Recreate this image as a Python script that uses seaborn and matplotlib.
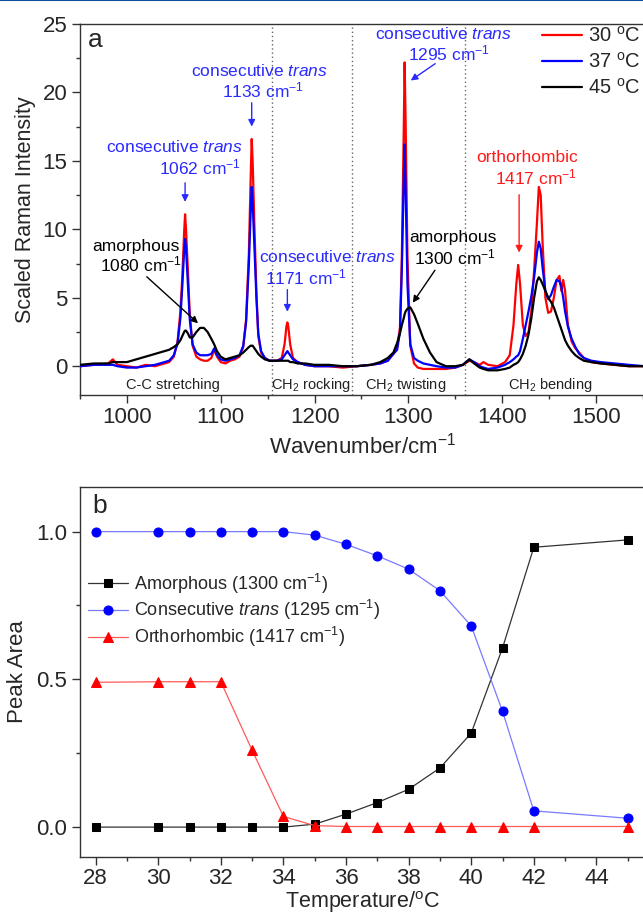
import numpy as np
import pandas as pd
import matplotlib
matplotlib.use("Agg")
import matplotlib.pyplot as plt
from matplotlib.ticker import MultipleLocator, FormatStrFormatter
from matplotlib.lines import Line2D
import seaborn as sns

# ---- panel a: Raman spectra ----
wavenumber = [950, 965, 980, 985, 990, 1000, 1010, 1020, 1030, 1040, 1045, 1050, 1054, 1057, 1059,
              1061, 1062, 1063, 1065, 1067, 1070, 1074, 1078, 1082, 1086, 1090, 1093, 1096, 1100,
              1105, 1110, 1115, 1120, 1124, 1127, 1130, 1132, 1133, 1134, 1136, 1138, 1140, 1143,
              1147, 1152, 1160, 1165, 1168, 1170, 1171, 1172, 1174, 1177, 1182, 1190, 1200, 1215,
              1230, 1245, 1260, 1270, 1278, 1284, 1288, 1291, 1293, 1295, 1296, 1297, 1299, 1302,
              1306, 1310, 1316, 1323, 1330, 1340, 1350, 1358, 1365, 1370, 1376, 1380, 1385, 1395,
              1403, 1408, 1412, 1415, 1417, 1419, 1422, 1425, 1428, 1431, 1434, 1437, 1439, 1441,
              1443, 1446, 1449, 1452, 1455, 1458, 1461, 1463, 1465, 1467, 1470, 1474, 1478, 1482,
              1487, 1495, 1505, 1520, 1535, 1552]

int_30 = [0.0, 0.1, 0.2, 0.5, 0.1, 0.0, -0.1, 0.1, 0.0, 0.2, 0.3, 0.7, 1.8, 4.0, 6.5,
          9.8, 11.1, 10.0, 7.0, 3.8, 1.5, 0.7, 0.5, 0.4, 0.4, 0.6, 1.2, 0.7, 0.3,
          0.2, 0.4, 0.5, 0.7, 1.4, 3.4, 8.3, 14.0, 16.6, 15.0, 10.0, 5.5, 2.2, 1.0,
          0.6, 0.4, 0.4, 0.6, 1.6, 2.9, 3.2, 2.9, 1.6, 0.6, 0.3, 0.1, 0.0, 0.0,
          -0.1, 0.0, 0.1, 0.2, 0.4, 0.9, 1.4, 2.8, 8.0, 17.0, 22.2, 18.0, 8.0, 1.5,
          0.2, -0.1, -0.2, -0.2, -0.2, -0.2, -0.1, 0.1, 0.4, 0.3, 0.1, 0.3, 0.1, 0.0,
          0.3, 0.8, 3.0, 6.0, 7.4, 6.0, 3.0, 2.2, 2.5, 4.0, 7.0, 10.5, 13.1, 12.5,
          9.0, 5.0, 3.9, 4.0, 5.0, 6.3, 6.6, 5.5, 6.3, 5.5, 3.0, 1.8, 1.3, 1.0,
          0.6, 0.3, 0.2, 0.1, 0.0, 0.0]

int_37 = [0.0, 0.1, 0.1, 0.1, 0.0, -0.1, -0.1, 0.0, 0.1, 0.3, 0.4, 0.8, 1.7, 3.5, 5.8,
          8.4, 9.3, 8.6, 6.0, 3.4, 1.6, 1.0, 0.8, 0.8, 0.8, 0.9, 1.3, 0.8, 0.5,
          0.4, 0.5, 0.6, 0.8, 1.5, 3.2, 7.5, 11.5, 13.1, 12.0, 8.5, 5.0, 2.4, 1.1,
          0.6, 0.4, 0.4, 0.5, 0.8, 1.0, 1.1, 1.0, 0.8, 0.5, 0.3, 0.1, 0.0, 0.0,
          0.0, 0.0, 0.1, 0.2, 0.4, 0.9, 1.2, 2.5, 7.0, 13.5, 16.2, 13.0, 6.0, 1.6,
          0.6, 0.4, 0.2, 0.1, 0.0, -0.1, -0.1, 0.1, 0.5, 0.3, 0.0, -0.1, -0.2, -0.1,
          0.1, 0.3, 0.5, 0.7, 0.8, 1.1, 2.0, 3.0, 4.0, 5.1, 6.5, 8.3, 9.1, 8.6,
          7.2, 5.5, 4.9, 5.2, 5.8, 6.3, 6.2, 5.8, 5.0, 4.0, 2.9, 2.0, 1.4, 0.9,
          0.6, 0.4, 0.3, 0.2, 0.1, 0.0]

int_45 = [0.1, 0.2, 0.2, 0.3, 0.3, 0.3, 0.5, 0.7, 0.9, 1.1, 1.2, 1.4, 1.6, 1.9, 2.2,
          2.5, 2.6, 2.6, 2.4, 2.1, 2.1, 2.5, 2.8, 2.8, 2.5, 2.0, 1.6, 1.1, 0.7,
          0.5, 0.6, 0.7, 0.8, 1.0, 1.2, 1.4, 1.5, 1.5, 1.5, 1.3, 1.1, 0.9, 0.7,
          0.5, 0.4, 0.4, 0.4, 0.4, 0.4, 0.4, 0.4, 0.3, 0.3, 0.2, 0.2, 0.1, 0.1,
          0.0, 0.0, 0.1, 0.3, 0.6, 1.0, 1.7, 2.4, 3.0, 3.5, 3.8, 4.0, 4.2, 4.3,
          3.8, 3.1, 2.0, 1.0, 0.3, 0.0, 0.0, 0.1, 0.5, 0.2, -0.1, -0.2, -0.3, -0.3,
          -0.2, -0.1, 0.1, 0.2, 0.3, 0.5, 0.9, 1.5, 2.3, 3.5, 5.0, 6.2, 6.5, 6.3,
          6.0, 5.5, 5.0, 4.7, 4.3, 3.7, 3.1, 2.7, 2.3, 1.9, 1.5, 1.1, 0.8, 0.6,
          0.4, 0.3, 0.2, 0.1, 0.0, 0.0]

spectra_labels = ["30 $^{\\mathrm{o}}$C", "37 $^{\\mathrm{o}}$C", "45 $^{\\mathrm{o}}$C"]
spectra_colors = ["#ff0000", "#0000ff", "#000000"]

# ---- panel b: normalised peak areas ----
temperature = [28, 30, 31, 32, 33, 34, 35, 36, 37, 38, 39, 40, 41, 42, 45]
amorphous = [0.0, 0.0, 0.0, 0.0, 0.0, 0.0, 0.01, 0.044, 0.083, 0.128, 0.20, 0.318, 0.606, 0.947, 0.972]
cons_trans = [1.0, 1.0, 1.0, 1.0, 1.0, 1.0, 0.988, 0.957, 0.918, 0.873, 0.80, 0.681, 0.392, 0.055, 0.03]
orthorhombic = [0.49, 0.492, 0.492, 0.492, 0.26, 0.036, 0.005, 0.002, 0.002, 0.002, 0.002, 0.002, 0.002, 0.002, 0.002]

sns.set_theme(style="ticks")
plt.rcParams["font.family"] = ["Liberation Sans", "DejaVu Sans"]
plt.rcParams["mathtext.fontset"] = "custom"
plt.rcParams["mathtext.rm"] = "Liberation Sans"
plt.rcParams["mathtext.it"] = "Liberation Sans:italic"
plt.rcParams["mathtext.bf"] = "Liberation Sans:bold"

fig = plt.figure(figsize=(6.43, 9.17), dpi=100)
# axes run slightly past the right edge of the image, as in the cropped original
ax1 = fig.add_axes([0.1244, 0.5693, 0.8776, 0.4045])
ax2 = fig.add_axes([0.1244, 0.0658, 0.8776, 0.4028])

# top page rule
fig.add_artist(Line2D([0, 1], [0.9995, 0.9995], transform=fig.transFigure, color="#0b4f9e", lw=1.5))

for sp in ["left", "right", "top", "bottom"]:
    for a in (ax1, ax2):
        a.spines[sp].set_color("#333333")
        a.spines[sp].set_linewidth(1.0)

# ---- panel a ----
for x0 in [1155, 1240, 1360]:
    ax1.axvline(x0, color="#666666", ls=(0, (1, 2)), lw=1.0, zorder=1)

for vals, lab, col in zip([int_30, int_37, int_45], spectra_labels, spectra_colors):
    sns.lineplot(x=wavenumber, y=vals, ax=ax1, color=col, lw=1.6, label=lab, sort=False, zorder=3)

ax1.set_xlim(950, 1551.4)
ax1.set_ylim(-2.1, 25)
ax1.xaxis.set_major_locator(MultipleLocator(100))
ax1.xaxis.set_minor_locator(MultipleLocator(50))
ax1.yaxis.set_major_locator(MultipleLocator(5))
ax1.yaxis.set_minor_locator(MultipleLocator(2.5))
ax1.set_xlabel("Wavenumber/cm$^{-1}$", fontsize=16, labelpad=3)
ax1.set_ylabel("Scaled Raman Intensity", fontsize=15.5, labelpad=5)
ax1.text(0.027, 0.958, "a", transform=ax1.transAxes, fontsize=19, ha="center", va="center")

ax1.legend(loc="upper left", bbox_to_anchor=(0.818, 0.995), frameon=False, fontsize=14.5,
           handlelength=2.0, handletextpad=0.3, labelspacing=0.3, borderaxespad=0, borderpad=0)

blue_txt = "#2a2aff"
red_txt = "#ff1a1a"
fs = 12.5
ax1.text(1141, 21.57, "consecutive $\\mathit{trans}$", color=blue_txt, fontsize=fs, ha="center", va="center")
ax1.text(1145, 20.18, "1133 cm$^{-1}$", color=blue_txt, fontsize=fs, ha="center", va="center")
ax1.annotate("", xy=(1133, 17.3), xytext=(1133, 19.45),
             arrowprops=dict(arrowstyle="-|>", color=blue_txt, lw=1.0, mutation_scale=10))

ax1.text(1051, 16.0, "consecutive $\\mathit{trans}$", color=blue_txt, fontsize=fs, ha="center", va="center")
ax1.text(1078, 14.55, "1062 cm$^{-1}$", color=blue_txt, fontsize=fs, ha="center", va="center")
ax1.annotate("", xy=(1062, 11.8), xytext=(1062, 13.6),
             arrowprops=dict(arrowstyle="-|>", color=blue_txt, lw=1.0, mutation_scale=10))

ax1.text(1010, 8.71, "amorphous", color="black", fontsize=fs, ha="center", va="center")
ax1.text(1015, 7.40, "1080 cm$^{-1}$", color="black", fontsize=fs, ha="center", va="center")
ax1.annotate("", xy=(1078, 3.0), xytext=(1019, 6.67),
             arrowprops=dict(arrowstyle="-|>", color="black", lw=1.0, mutation_scale=10))

ax1.text(1214, 7.98, "consecutive $\\mathit{trans}$", color=blue_txt, fontsize=fs, ha="center", va="center")
ax1.text(1191, 6.45, "1171 cm$^{-1}$", color=blue_txt, fontsize=fs, ha="center", va="center")
ax1.annotate("", xy=(1171, 3.78), xytext=(1171, 5.8),
             arrowprops=dict(arrowstyle="-|>", color=blue_txt, lw=1.0, mutation_scale=10))

ax1.text(1337, 24.27, "consecutive $\\mathit{trans}$", color=blue_txt, fontsize=fs, ha="center", va="center")
ax1.text(1343, 22.88, "1295 cm$^{-1}$", color=blue_txt, fontsize=fs, ha="center", va="center")
ax1.annotate("", xy=(1300, 20.76), xytext=(1331, 22.22),
             arrowprops=dict(arrowstyle="-|>", color=blue_txt, lw=1.0, mutation_scale=10))

ax1.text(1347, 9.44, "amorphous", color="black", fontsize=fs, ha="center", va="center")
ax1.text(1350, 7.91, "1300 cm$^{-1}$", color="black", fontsize=fs, ha="center", va="center")
ax1.annotate("", xy=(1303, 4.47), xytext=(1330, 7.18),
             arrowprops=dict(arrowstyle="-|>", color="black", lw=1.0, mutation_scale=10))

ax1.text(1427, 15.28, "orthorhombic", color=red_txt, fontsize=fs, ha="center", va="center")
ax1.text(1436, 13.82, "1417 cm$^{-1}$", color=red_txt, fontsize=fs, ha="center", va="center")
ax1.annotate("", xy=(1418, 8.1), xytext=(1418, 12.73),
             arrowprops=dict(arrowstyle="-|>", color=red_txt, lw=1.0, mutation_scale=10))

for xc, txt in [(1049, "C-C stretching"), (1196, "CH$_2$ rocking"),
                (1297, "CH$_2$ twisting"), (1451, "CH$_2$ bending")]:
    ax1.text(xc, -1.37, txt, fontsize=10.5, color="#222222", ha="center", va="center")

# ---- panel b ----
sns.lineplot(x=temperature, y=amorphous, ax=ax2, color="#333333", lw=0.9, marker="s", markersize=5.5,
             markerfacecolor="black", markeredgecolor="black", label="Amorphous (1300 cm$^{-1}$)")
sns.lineplot(x=temperature, y=cons_trans, ax=ax2, color="#7a7aff", lw=0.9, marker="o", markersize=6.5,
             markerfacecolor="#0000ff", markeredgecolor="#0000ff",
             label="Consecutive $\\mathit{trans}$ (1295 cm$^{-1}$)")
sns.lineplot(x=temperature, y=orthorhombic, ax=ax2, color="#ff5a5a", lw=0.9, marker="^", markersize=7,
             markerfacecolor="#ff0000", markeredgecolor="#ff0000", label="Orthorhombic (1417 cm$^{-1}$)")

ax2.set_xlim(27.5, 45.53)
ax2.set_ylim(-0.1, 1.15)
ax2.xaxis.set_major_locator(MultipleLocator(2))
ax2.xaxis.set_minor_locator(MultipleLocator(1))
ax2.yaxis.set_major_locator(MultipleLocator(0.5))
ax2.yaxis.set_minor_locator(MultipleLocator(0.25))
ax2.yaxis.set_major_formatter(FormatStrFormatter("%.1f"))
ax2.set_xlabel("Temperature/$^{\\mathrm{o}}$C", fontsize=15.5, labelpad=0)
ax2.set_ylabel("Peak Area", fontsize=16, labelpad=6)
ax2.text(0.034, 0.949, "b", transform=ax2.transAxes, fontsize=19, ha="center", va="center")
ax2.legend(loc="upper left", bbox_to_anchor=(0.014, 0.772), frameon=False, fontsize=13,
           handlelength=2.2, handletextpad=0.35, labelspacing=0.15, borderaxespad=0, borderpad=0)

for a in (ax1, ax2):
    a.tick_params(which="major", direction="out", length=6, width=1.0, color="#333333",
                  labelsize=16, pad=3)
    a.tick_params(which="minor", direction="out", length=3, width=1.0, color="#333333")
    a.tick_params(top=False, right=False)
ax2.tick_params(axis="x", which="major", pad=2)

fig.savefig("out.png", dpi=100)
